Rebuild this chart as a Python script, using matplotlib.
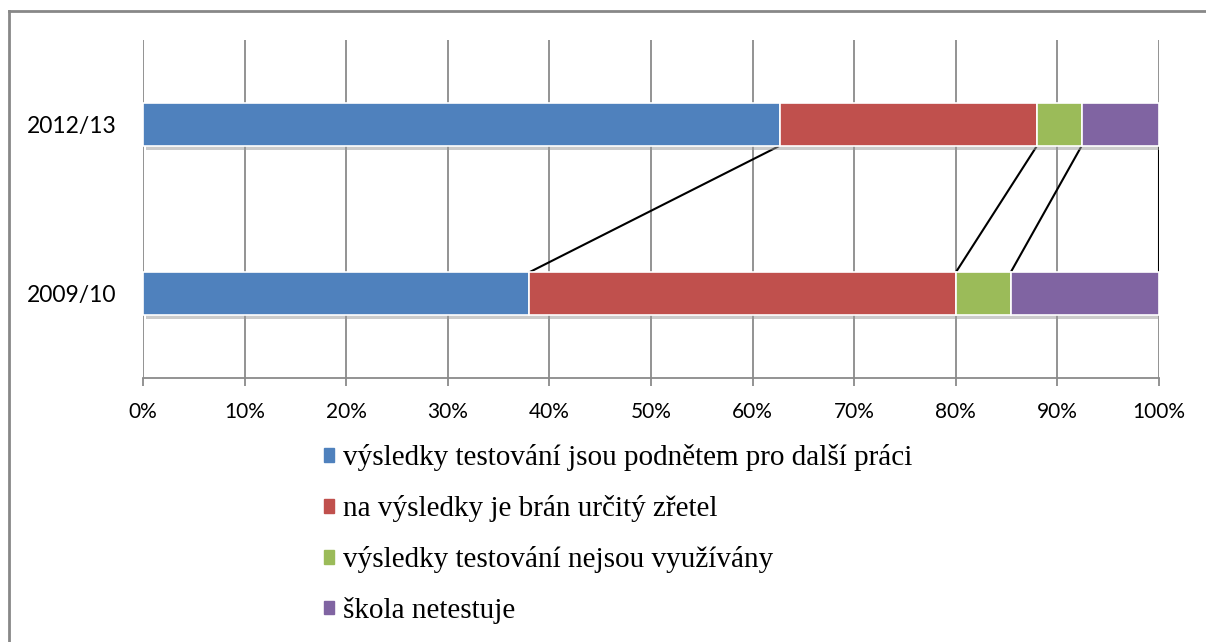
import numpy as np
import matplotlib
matplotlib.use("Agg")
import matplotlib.pyplot as plt
import matplotlib.patheffects as pe
from matplotlib.lines import Line2D

years = ["2009/10", "2012/13"]
categories = [
    "výsledky testování jsou podnětem pro další práci",
    "na výsledky je brán určitý zřetel",
    "výsledky testování nejsou využívány",
    "škola netestuje",
]
# shares in % for each year (2009/10, 2012/13)
share_0910 = [38.0, 42.0, 5.4, 14.6]
share_1213 = [62.7, 25.3, 4.4, 7.6]
colors = ["#4f81bd", "#c0504d", "#9bbb59", "#8064a2"]

fig = plt.figure(figsize=(12.06, 6.42), dpi=100)
ax = fig.add_axes([143 / 1206, 1 - 378 / 642, (1159 - 143) / 1206, (378 - 40) / 642])

shares = np.array([share_0910, share_1213])
left = np.zeros(2)
ypos = np.arange(len(years))
bar_h = 0.25
shadow = [pe.SimplePatchShadow(offset=(2, -3), shadow_rgbFace="#999999", alpha=0.5), pe.Normal()]
for i, cat in enumerate(categories):
    ax.barh(ypos, shares[:, i], left=left, height=bar_h, color=colors[i],
            edgecolor="white", linewidth=1.2, label=cat, zorder=3, path_effects=shadow)
    left = left + shares[:, i]

# series lines connecting the stacked edges
cum = np.cumsum(shares, axis=1)
for i in range(len(categories)):
    ax.plot([cum[0, i], cum[1, i]], [ypos[0] + bar_h / 2, ypos[1] - bar_h / 2],
            color="black", lw=1.5, zorder=2)

ax.set_xlim(0, 100)
ax.set_ylim(-0.5, 1.5)
ax.set_xticks(np.arange(0, 101, 10))
ax.set_xticklabels([f"{v}%" for v in range(0, 101, 10)], fontsize=15, family="Lato")
ax.set_yticks(ypos)
ax.set_yticklabels(years, fontsize=16.5, family="Lato")
ax.grid(axis="x", color="#8a8a8a", lw=1.3, zorder=0)
for s in ["top", "right", "left"]:
    ax.spines[s].set_visible(False)
ax.spines["bottom"].set_color("#8a8a8a")
ax.spines["bottom"].set_linewidth(1.3)
ax.tick_params(axis="x", length=6, width=1.3, color="#8a8a8a", pad=11)
ax.tick_params(axis="y", length=0, pad=19)

handles = [plt.Rectangle((0, 0), 1, 1, color=c) for c in colors]
fig.legend(handles, categories, loc="upper left", bbox_to_anchor=(298 / 1206, 1 - 418 / 642),
           frameon=False, prop={"family": "Liberation Serif", "size": 21},
           handlelength=0.35, handleheight=0.35, handletextpad=0.3, labelspacing=0.82)

# chart frame (only top and left visible)
fig.add_artist(Line2D([8.5 / 1206, 8.5 / 1206], [0, 1 - 11 / 642], color="#888888", lw=2,
                      transform=fig.transFigure))
fig.add_artist(Line2D([8.5 / 1206, 1], [1 - 11 / 642, 1 - 11 / 642], color="#888888", lw=2,
                      transform=fig.transFigure))

fig.savefig("out.png", dpi=100)
